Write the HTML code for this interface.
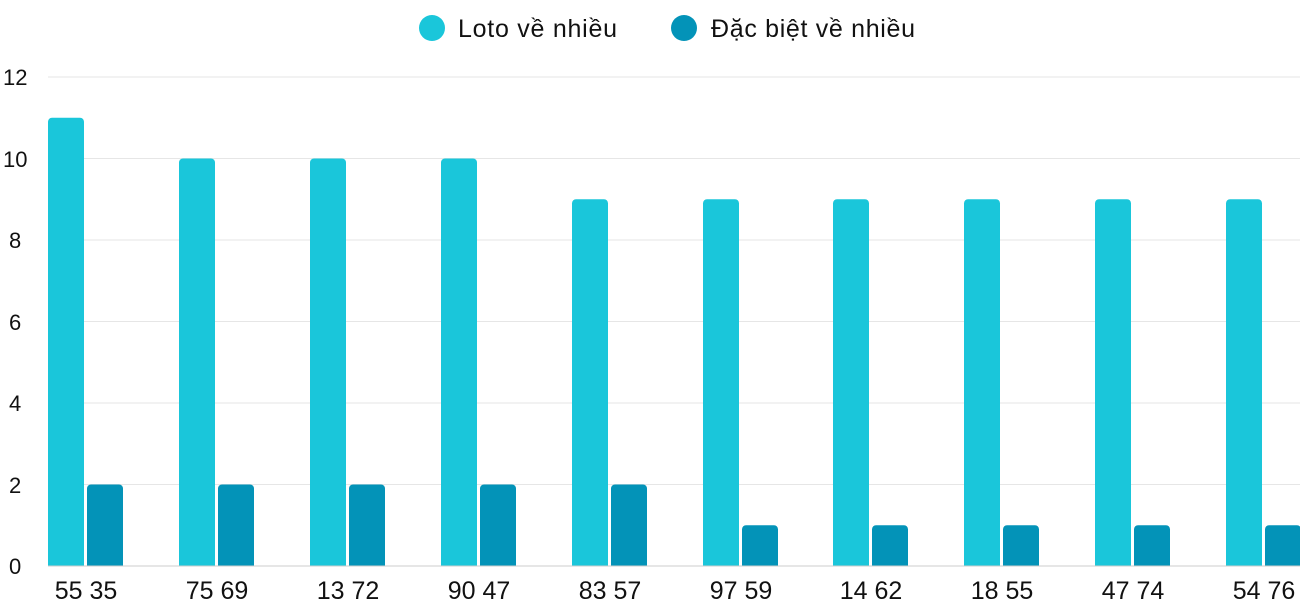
<!DOCTYPE html>
<html><head><meta charset="utf-8"><style>
body{margin:0;background:#fff;}
svg text{font-family:"Liberation Sans",sans-serif;fill:#111;}
</style></head><body>
<svg width="1300" height="600" xmlns="http://www.w3.org/2000/svg">
<g stroke="#e6e6e6" stroke-width="1">
<line x1="48" x2="1300" y1="77" y2="77"/>
<line x1="48" x2="1300" y1="158.5" y2="158.5"/>
<line x1="48" x2="1300" y1="240" y2="240"/>
<line x1="48" x2="1300" y1="321.5" y2="321.5"/>
<line x1="48" x2="1300" y1="403" y2="403"/>
<line x1="48" x2="1300" y1="484.5" y2="484.5"/>
</g>
<g font-size="22">
<text x="3" y="85">12</text>
<text x="3" y="167">10</text>
<text x="9" y="248">8</text>
<text x="9" y="330">6</text>
<text x="9" y="411">4</text>
<text x="9" y="493">2</text>
<text x="9" y="574">0</text>
</g>
<g fill="#1ac6da">
<rect x="48" y="117.75" width="36" height="456" rx="4"/>
<rect x="179" y="158.5" width="36" height="416" rx="4"/>
<rect x="310" y="158.5" width="36" height="416" rx="4"/>
<rect x="441" y="158.5" width="36" height="416" rx="4"/>
<rect x="572" y="199.25" width="36" height="376" rx="4"/>
<rect x="703" y="199.25" width="36" height="376" rx="4"/>
<rect x="833" y="199.25" width="36" height="376" rx="4"/>
<rect x="964" y="199.25" width="36" height="376" rx="4"/>
<rect x="1095" y="199.25" width="36" height="376" rx="4"/>
<rect x="1226" y="199.25" width="36" height="376" rx="4"/>
</g>
<g fill="#0393b8">
<rect x="87" y="484.5" width="36" height="90" rx="4"/>
<rect x="218" y="484.5" width="36" height="90" rx="4"/>
<rect x="349" y="484.5" width="36" height="90" rx="4"/>
<rect x="480" y="484.5" width="36" height="90" rx="4"/>
<rect x="611" y="484.5" width="36" height="90" rx="4"/>
<rect x="742" y="525.25" width="36" height="50" rx="4"/>
<rect x="872" y="525.25" width="36" height="50" rx="4"/>
<rect x="1003" y="525.25" width="36" height="50" rx="4"/>
<rect x="1134" y="525.25" width="36" height="50" rx="4"/>
<rect x="1265" y="525.25" width="36" height="50" rx="4"/>
</g>
<rect x="40" y="566.5" width="1260" height="12" fill="#fff"/>
<line x1="48" x2="1300" y1="566" y2="566" stroke="#ccc"/>
<g font-size="25" text-anchor="middle">
<text x="86" y="599">55 35</text>
<text x="217" y="599">75 69</text>
<text x="348" y="599">13 72</text>
<text x="479" y="599">90 47</text>
<text x="610" y="599">83 57</text>
<text x="741" y="599">97 59</text>
<text x="871" y="599">14 62</text>
<text x="1002" y="599">18 55</text>
<text x="1133" y="599">47 74</text>
<text x="1264" y="599">54 76</text>
</g>
<circle cx="432" cy="28" r="13" fill="#1ac6da"/>
<text x="458" y="37" font-size="25" textLength="159">Loto về nhiều</text>
<circle cx="684" cy="28" r="13" fill="#0393b8"/>
<text x="711" y="37" font-size="25" textLength="204">Đặc biệt về nhiều</text>
</svg>
</body></html>
